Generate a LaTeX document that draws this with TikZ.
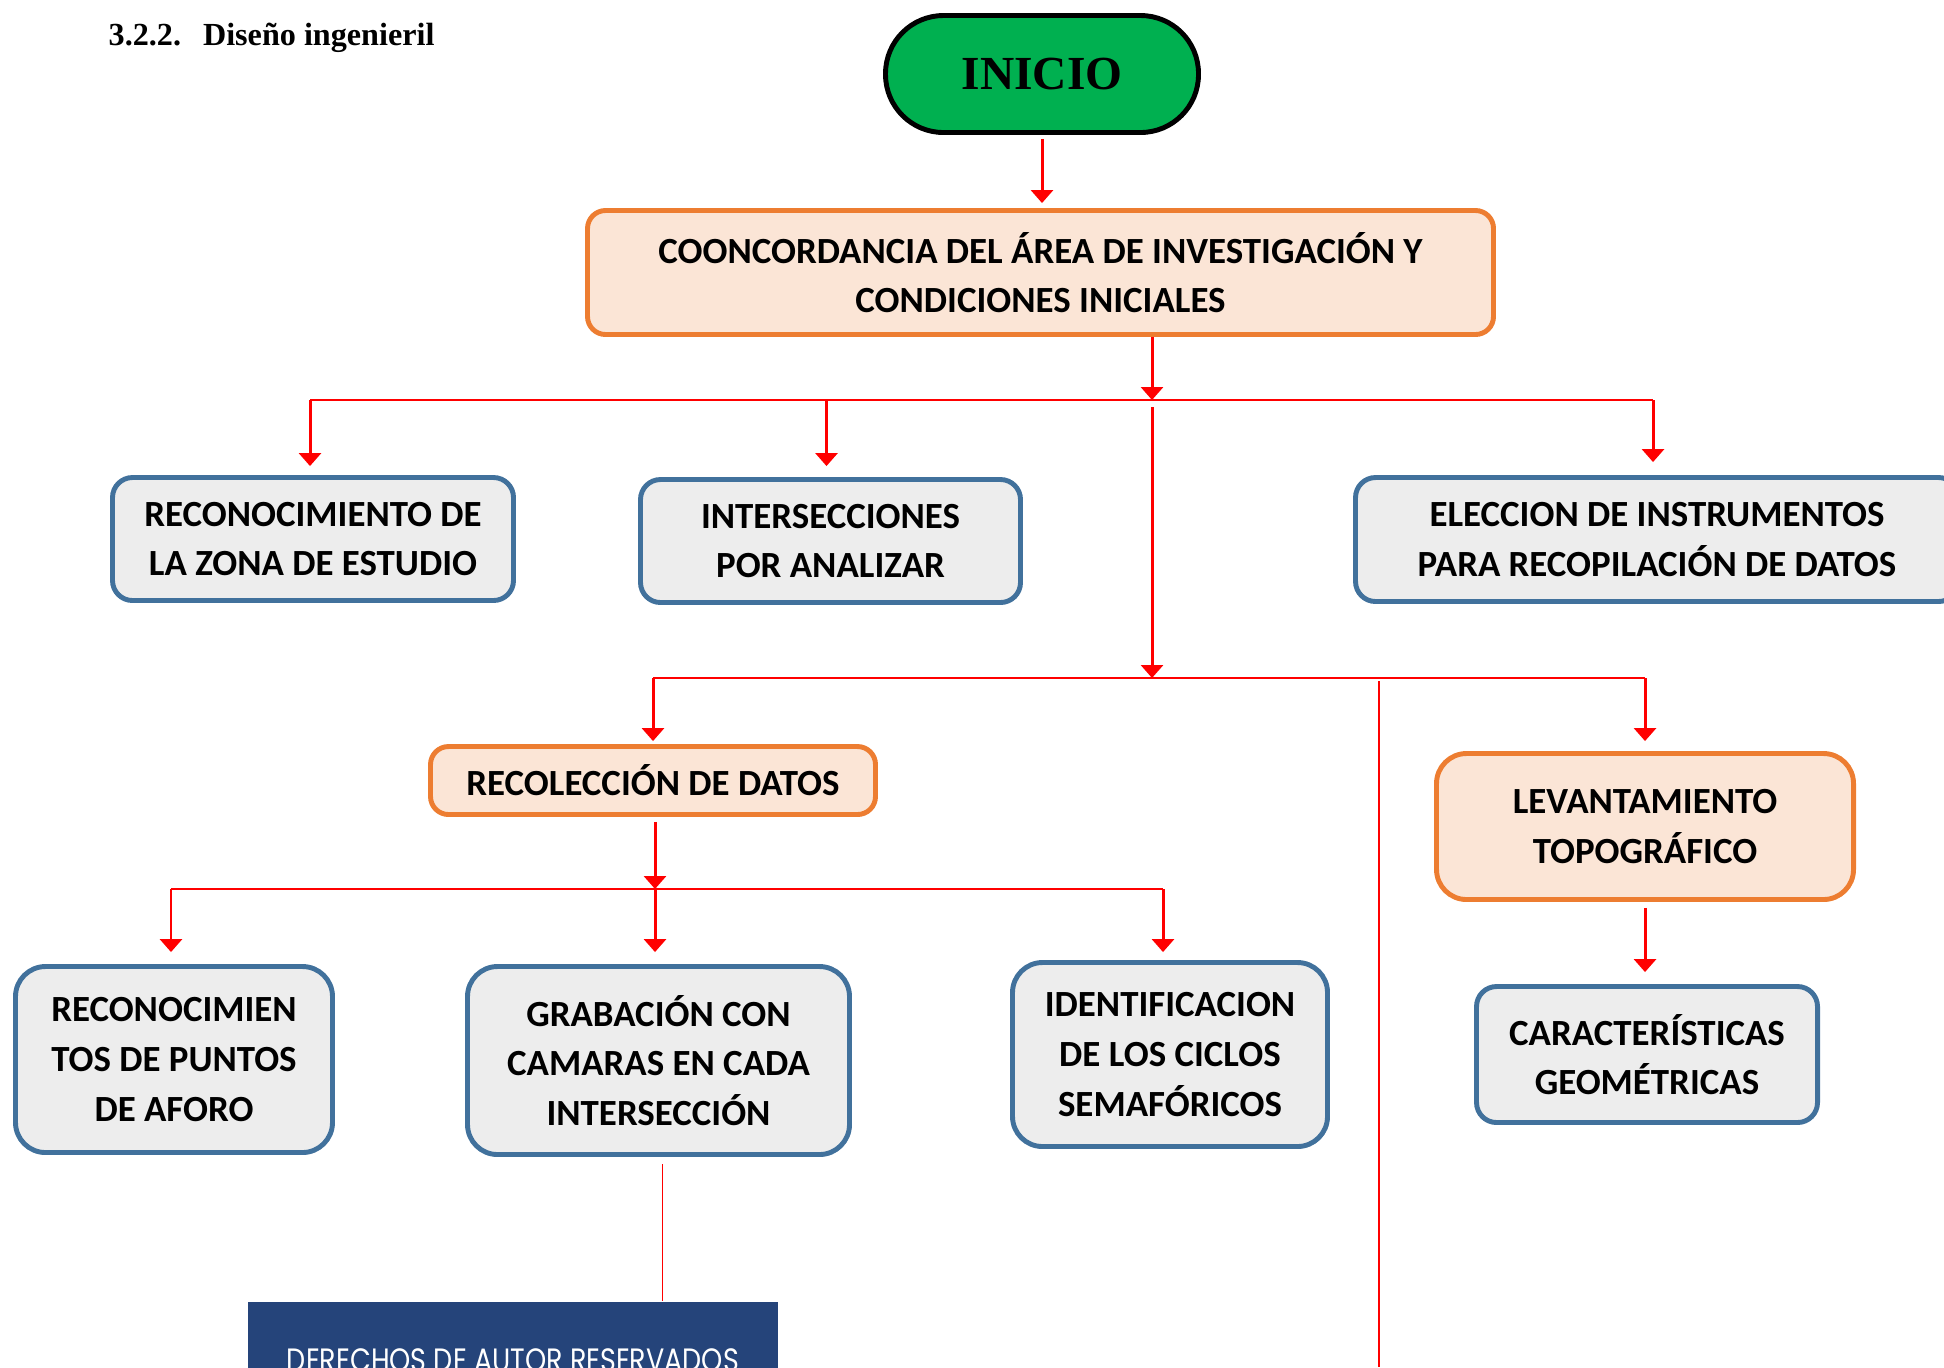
\documentclass[tikz,border=0pt]{standalone}
\usepackage{fontspec}
\setmainfont{Carlito}
\newfontfamily\headfont{Liberation Serif}
\newfontfamily\bannerfont{Poppins}[FakeStretch=0.835]
\usetikzlibrary{arrows.meta,positioning,calc}
\definecolor{startgreen}{HTML}{00B050}
\definecolor{phaseborder}{HTML}{ED7D31}
\definecolor{phasefill}{HTML}{FBE5D6}
\definecolor{taskborder}{HTML}{41719C}
\definecolor{taskfill}{HTML}{EDEDED}
\definecolor{linkred}{HTML}{FF0000}
\definecolor{bannerblue}{HTML}{25447A}
\tikzset{
    startbox/.style={
        rectangle, rounded corners=0.58cm, draw=black, fill=startgreen,
        line width=1.4pt, minimum width=3.13cm, minimum height=1.17cm,
        font=\headfont\bfseries\fontsize{13.5}{16}\selectfont
    },
    phase/.style={
        rectangle, rounded corners=0.18cm, draw=phaseborder, fill=phasefill,
        line width=1.4pt, align=center, inner sep=0pt,
        font=\bfseries\fontsize{10.5}{14.1}\selectfont
    },
    task/.style={
        rectangle, rounded corners=0.2cm, draw=taskborder, fill=taskfill,
        line width=1.4pt, align=center, inner sep=0pt,
        font=\bfseries\fontsize{10.5}{14.1}\selectfont
    },
    banner/.style={
        rectangle, fill=bannerblue, text=white, inner sep=0pt,
        font=\bannerfont\fontsize{9.2}{11}\selectfont
    },
    arrow/.style={-{Triangle[width=0.22cm,length=0.13cm]}, draw=linkred, line width=0.85pt},
    bus/.style={draw=linkred, line width=0.55pt},
    thinlink/.style={draw=linkred, line width=0.35pt}
}
\begin{document}
\begin{tikzpicture}[x=1cm, y=1cm]
\clip (0,0) rectangle (19.44,-13.67);

%% heading
\node[anchor=base west, inner sep=0pt, font=\headfont\bfseries\fontsize{9.15}{11}\selectfont]
    (title) at (1.08,-0.45) {3.2.2.\hspace{0.22cm}Diseño ingenieril};

%% Level 0 – start and first phase
\node[startbox] (inicio) at (10.42,-0.74) {INICIO};
\node[phase, minimum width=9.06cm, minimum height=1.24cm] (conc) at (10.405,-2.725)
    {COONCORDANCIA DEL ÁREA DE INVESTIGACIÓN Y\\CONDICIONES INICIALES};

%% Level 1 – three tasks, bus at y=-4.00
\node[task, minimum width=4.01cm, minimum height=1.23cm] (zona)  at (3.13,-5.39)
    {RECONOCIMIENTO DE\\LA ZONA DE ESTUDIO};
\node[task, minimum width=3.80cm, minimum height=1.23cm] (inter) at (8.305,-5.41)
    {INTERSECCIONES\\POR ANALIZAR};
\node[task, minimum width=6.03cm, minimum height=1.24cm] (elec)  at (16.57,-5.395)
    {ELECCION DE INSTRUMENTOS\\PARA RECOPILACIÓN DE DATOS};

%% Level 2 – data collection and survey, bus at y=-6.78
\node[phase, minimum width=4.45cm, minimum height=0.68cm] (datos) at (6.53,-7.805)
    {RECOLECCIÓN DE DATOS};
\node[phase, minimum width=4.17cm, minimum height=1.46cm, rounded corners=0.3cm] (levan) at (16.45,-8.265)
    {LEVANTAMIENTO\\TOPOGRÁFICO};
\node[task, minimum width=3.41cm, minimum height=1.36cm] (carac) at (16.47,-10.545)
    {CARACTERÍSTICAS\\GEOMÉTRICAS};

%% Level 3 – field work, bus at y=-8.89
\node[task, minimum width=3.17cm, minimum height=1.86cm, rounded corners=0.3cm] (aforo) at (1.74,-10.595)
    {RECONOCIMIEN\\TOS DE PUNTOS\\DE AFORO};
\node[task, minimum width=3.82cm, minimum height=1.88cm, rounded corners=0.3cm] (grab)  at (6.585,-10.605)
    {GRABACIÓN CON\\CAMARAS EN CADA\\INTERSECCIÓN};
\node[task, minimum width=3.15cm, minimum height=1.84cm, rounded corners=0.3cm] (ident) at (11.70,-10.545)
    {IDENTIFICACION\\DE LOS CICLOS\\SEMAFÓRICOS};

%% footer band, cut by the page edge
\node[banner, anchor=north, minimum width=5.30cm, minimum height=1.16cm] (rights) at (5.13,-13.01)
    {DERECHOS DE AUTOR RESERVADOS};

%% bus lines
\coordinate (bus1) at (11.52,-4.00);
\coordinate (bus2) at (11.52,-6.78);
\coordinate (bus3) at (6.55,-8.89);
\coordinate (tail) at (13.79,-13.67);

%% INICIO -> first phase
\draw[arrow] ([yshift=-0.04cm]inicio.south) -- ([yshift=0.05cm]inicio.south |- conc.north);

%% first phase -> level 1
\draw[arrow] (conc.south -| bus1) -- (bus1);
\draw[bus] ($(zona.north |- bus1)+(-0.03,0)$) -- ($(elec.north |- bus1)+(-0.04,0)$);
\draw[arrow] ($(zona.north |- bus1)+(-0.03,0)$) -- ($(zona.north)+(-0.03,0.09)$);
\draw[arrow] ($(inter.north |- bus1)+(-0.04,0)$) -- ($(inter.north)+(-0.04,0.11)$);
\draw[arrow] ($(elec.north |- bus1)+(-0.04,0)$) -- ($(elec.north)+(-0.04,0.13)$);

%% level 1 -> level 2
\draw[arrow] ([yshift=-0.07cm]bus1) -- (bus2);
\draw[bus] (datos.north |- bus2) -- (levan.north |- bus2);
\draw[arrow] (datos.north |- bus2) -- ([yshift=0.03cm]datos.north);
\draw[arrow] (levan.north |- bus2) -- ([yshift=0.10cm]levan.north);
\draw[thinlink] ([yshift=-0.03cm]bus2 -| tail) -- (tail);

%% survey -> geometry
\draw[arrow] ([yshift=-0.06cm]levan.south) -- ([yshift=0.12cm]levan.south |- carac.north);

%% data collection -> level 3
\draw[arrow] ([yshift=-0.05cm]datos.south -| bus3) -- (bus3);
\draw[bus] ($(aforo.north |- bus3)+(-0.03,0)$) -- ($(ident.north |- bus3)+(-0.07,0)$);
\draw[arrow] ($(aforo.north |- bus3)+(-0.03,0)$) -- ($(aforo.north)+(-0.03,0.12)$);
\draw[arrow] (bus3) -- ($(bus3 |- grab.north)+(0,0.12)$);
\draw[arrow] ($(ident.north |- bus3)+(-0.07,0)$) -- ($(ident.north)+(-0.07,0.08)$);

%% recording -> footer
\draw[thinlink] ([xshift=0.04cm,yshift=-0.07cm]grab.south) -- ([xshift=0.04cm]grab.south |- rights.north);

\end{tikzpicture}
\end{document}
